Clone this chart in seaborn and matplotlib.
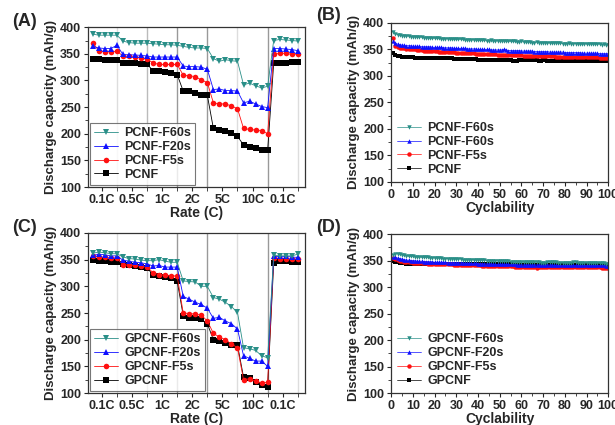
import numpy as np
import pandas as pd
import matplotlib
matplotlib.use("Agg")
import matplotlib.pyplot as plt
import seaborn as sns
from matplotlib.ticker import MultipleLocator, FixedLocator

sns.set_style("ticks")
plt.rcParams['font.family'] = ['Liberation Sans', 'DejaVu Sans']
plt.rcParams['font.weight'] = 'bold'

# ---------------- data ----------------
rate_labels = ["0.1C", "0.5C", "1C", "2C", "5C", "10C", "0.1C"]
rate_cycles = list(range(1, 36))

a_f60 = [387, 385, 385, 385, 385, 374, 371, 370, 370, 370, 369, 368, 367, 367, 366,
         364, 362, 361, 361, 360, 341, 336, 339, 337, 336, 292, 295, 290, 286, 289,
         375, 377, 376, 375, 374]
a_f20 = [364, 361, 360, 360, 366, 349, 348, 348, 347, 346, 344, 344, 344, 344, 344,
         327, 326, 326, 325, 321, 283, 284, 281, 281, 280, 258, 261, 256, 251, 249,
         360, 360, 359, 358, 356]
a_f5 = [370, 356, 354, 354, 355, 346, 345, 344, 342, 340, 333, 330, 330, 330, 330,
        310, 309, 307, 301, 296, 258, 256, 256, 252, 247, 210, 208, 207, 206, 200,
        349, 351, 351, 349, 350]
a_pcnf = [341, 340, 339, 339, 339, 333, 332, 332, 331, 331, 318, 318, 316, 314, 311,
          280, 280, 277, 273, 272, 210, 207, 205, 201, 195, 179, 176, 174, 170, 169,
          332, 333, 332, 334, 335]

c_f60 = [362, 364, 363, 361, 361, 355, 352, 351, 349, 348, 348, 350, 347, 345, 345,
         310, 309, 308, 300, 300, 279, 276, 270, 262, 251, 185, 183, 180, 170, 166,
         358, 357, 357, 357, 360]
c_f20 = [358, 360, 359, 357, 357, 349, 347, 345, 344, 342, 338, 339, 336, 336, 336,
         281, 276, 270, 266, 259, 240, 242, 235, 230, 220, 170, 165, 160, 160, 150,
         356, 356, 356, 355, 354]
c_f5 = [356, 355, 354, 353, 353, 340, 340, 339, 338, 337, 325, 322, 321, 320, 319,
        250, 249, 248, 246, 235, 212, 205, 200, 192, 185, 125, 127, 122, 119, 120,
        353, 352, 352, 351, 351]
c_gpcnf = [350, 348, 347, 346, 345, 341, 340, 338, 336, 335, 321, 320, 318, 315, 310,
           245, 241, 240, 238, 230, 200, 198, 193, 190, 190, 130, 128, 120, 115, 112,
           343, 347, 347, 346, 346]

cyc = list(range(1, 101))

b_f60 = [383, 380, 378, 377, 376, 376, 375, 375, 374, 374,
         374, 373, 373, 373, 372, 372, 372, 371, 371, 371,
         371, 371, 370, 370, 370, 370, 370, 369, 369, 369,
         369, 369, 369, 368, 368, 368, 368, 368, 368, 367,
         367, 367, 367, 366, 366, 367, 366, 366, 366, 366,
         366, 366, 365, 365, 365, 365, 365, 364, 364, 365,
         364, 364, 364, 364, 363, 363, 364, 363, 363, 363,
         363, 362, 362, 362, 362, 363, 362, 362, 361, 361,
         361, 362, 361, 361, 361, 361, 361, 360, 361, 360,
         360, 361, 360, 360, 360, 360, 359, 360, 359, 359]
b_f20 = [365, 362, 360, 359, 358, 358, 357, 357, 357, 356,
         356, 356, 356, 355, 355, 355, 355, 355, 354, 354,
         354, 354, 354, 353, 353, 353, 353, 353, 352, 352,
         352, 352, 352, 352, 351, 351, 351, 351, 351, 350,
         350, 350, 350, 350, 350, 349, 349, 349, 349, 349,
         349, 350, 349, 348, 348, 348, 348, 348, 348, 347,
         347, 347, 347, 347, 347, 346, 346, 346, 346, 346,
         346, 346, 345, 345, 345, 345, 345, 345, 345, 344,
         344, 344, 344, 344, 344, 344, 344, 343, 343, 343,
         343, 343, 343, 343, 343, 342, 342, 342, 342, 342]
b_f5 = [371, 356, 354, 353, 352, 352, 351, 351, 350, 350,
        350, 349, 349, 349, 348, 348, 348, 347, 347, 347,
        347, 346, 346, 346, 346, 345, 345, 345, 345, 344,
        344, 344, 344, 344, 343, 343, 343, 343, 342, 342,
        342, 342, 342, 341, 341, 341, 341, 341, 340, 340,
        340, 340, 340, 340, 339, 339, 339, 339, 339, 339,
        338, 338, 338, 338, 338, 338, 338, 337, 337, 337,
        337, 337, 337, 337, 337, 336, 336, 336, 336, 336,
        336, 336, 336, 336, 336, 335, 335, 335, 335, 335,
        335, 335, 335, 335, 335, 334, 334, 334, 334, 334]
b_pcnf = [343, 340, 338, 337, 336, 336, 335, 335, 335, 335,
          334, 334, 334, 334, 334, 334, 334, 333, 333, 333,
          333, 333, 333, 333, 333, 333, 333, 333, 332, 332,
          332, 332, 332, 332, 332, 332, 332, 332, 332, 331,
          331, 331, 331, 331, 331, 330, 330, 330, 331, 330,
          330, 330, 330, 330, 330, 329, 329, 329, 330, 330,
          330, 330, 330, 330, 330, 330, 330, 329, 329, 330,
          330, 329, 329, 329, 329, 330, 329, 329, 329, 329,
          329, 329, 329, 329, 329, 329, 329, 329, 329, 329,
          329, 329, 329, 329, 329, 328, 329, 329, 328, 328]

d_f60 = [361, 363, 363, 362, 361, 360, 359, 358, 358, 358,
         357, 357, 357, 356, 356, 356, 356, 355, 355, 355,
         355, 355, 355, 354, 354, 354, 354, 354, 353, 353,
         353, 353, 352, 352, 352, 352, 352, 351, 351, 351,
         351, 351, 351, 350, 350, 350, 350, 350, 350, 349,
         350, 349, 349, 349, 348, 348, 347, 347, 347, 347,
         347, 347, 347, 347, 347, 347, 347, 347, 346, 346,
         346, 347, 347, 347, 347, 347, 346, 346, 346, 346,
         346, 346, 346, 347, 347, 346, 346, 346, 346, 346,
         346, 346, 345, 346, 346, 345, 345, 345, 344, 343]
d_f20 = [357, 356, 355, 354, 353, 352, 351, 351, 350, 350,
         350, 349, 349, 349, 348, 348, 348, 348, 348, 347,
         347, 347, 347, 347, 347, 346, 346, 346, 346, 346,
         346, 346, 346, 345, 345, 345, 345, 345, 345, 344,
         344, 344, 344, 344, 344, 344, 343, 343, 343, 343,
         343, 343, 343, 343, 343, 343, 343, 342, 342, 342,
         342, 342, 342, 342, 342, 342, 342, 342, 342, 342,
         342, 342, 342, 342, 341, 341, 341, 341, 341, 341,
         341, 341, 341, 341, 341, 341, 341, 341, 341, 341,
         341, 341, 341, 341, 341, 341, 341, 341, 340, 340]
d_f5 = [355, 353, 351, 350, 349, 348, 348, 347, 347, 346,
        346, 346, 345, 345, 345, 345, 344, 344, 344, 344,
        344, 344, 343, 343, 343, 343, 343, 343, 342, 342,
        342, 342, 342, 342, 342, 341, 341, 341, 341, 341,
        341, 340, 340, 340, 340, 340, 340, 340, 339, 339,
        339, 339, 339, 339, 339, 339, 338, 338, 338, 338,
        338, 338, 338, 338, 338, 338, 337, 338, 338, 338,
        338, 338, 338, 338, 338, 338, 338, 338, 338, 338,
        338, 338, 338, 338, 338, 338, 338, 338, 338, 338,
        338, 338, 338, 338, 338, 338, 337, 337, 337, 337]
d_gpcnf = [350, 348, 347, 346, 345, 345, 344, 344, 344, 344,
           344, 343, 343, 343, 343, 343, 343, 343, 343, 343,
           343, 343, 343, 343, 343, 343, 343, 343, 343, 343,
           343, 343, 343, 343, 343, 343, 343, 343, 343, 343,
           343, 343, 343, 343, 343, 343, 343, 343, 343, 343,
           343, 343, 343, 343, 343, 342, 342, 342, 342, 342,
           342, 342, 342, 342, 342, 342, 342, 342, 342, 342,
           342, 342, 342, 342, 342, 342, 342, 342, 342, 342,
           342, 342, 342, 342, 342, 342, 342, 342, 342, 342,
           342, 342, 342, 342, 342, 342, 342, 342, 341, 341]

labels_a = ["PCNF-F60s", "PCNF-F20s", "PCNF-F5s", "PCNF"]
labels_b = ["PCNF-F60s", "PCNF-F60s", "PCNF-F5s", "PCNF"]
labels_c = ["GPCNF-F60s", "GPCNF-F20s", "GPCNF-F5s", "GPCNF"]
labels_d = ["GPCNF-F60s", "GPCNF-F20s", "GPCNF-F5s", "GPCNF"]

colors = ["#2a8f88", "#1010ff", "#ff1010", "#000000"]
markers = ["v", "^", "o", "s"]

fig = plt.figure(figsize=(6.15, 4.25), dpi=100)
axA = fig.add_axes([0.143, 0.560, 0.353, 0.376])
axB = fig.add_axes([0.636, 0.572, 0.353, 0.374])
axC = fig.add_axes([0.143, 0.075, 0.353, 0.377])
axD = fig.add_axes([0.636, 0.075, 0.353, 0.374])


def draw(ax, x, series, labels, ms, lw, frame):
    handles = [None] * 4
    for i in [3, 2, 1, 0]:
        sns.lineplot(x=x, y=series[i], ax=ax, color=colors[i], marker=markers[i],
                     markersize=ms, markeredgewidth=0, linewidth=lw,
                     label=labels[i], legend=False)
        handles[i] = ax.lines[-1]
    ax.set_ylim(100, 400)
    ax.yaxis.set_major_locator(MultipleLocator(50))
    ax.yaxis.set_minor_locator(MultipleLocator(25))
    ax.set_ylabel("Discharge capacity (mAh/g)", fontsize=9.5, fontweight='bold', labelpad=2)
    for sp in ax.spines.values():
        sp.set_visible(True)
        sp.set_color("#333333")
        sp.set_linewidth(0.9)
    ax.tick_params(axis='both', which='major', length=3, width=0.8, pad=2,
                   labelsize=9, direction='out')
    ax.tick_params(axis='both', which='minor', length=2, width=0.6, direction='out')
    for lab in ax.get_xticklabels() + ax.get_yticklabels():
        lab.set_fontweight('bold')
    leg = ax.legend(handles=handles, labels=labels, loc='lower left',
                    frameon=frame, handlelength=1.9, handletextpad=0.5,
                    labelspacing=0.15, borderpad=0.35, borderaxespad=0.15,
                    prop={'weight': 'bold', 'size': 9}, fancybox=False)
    if frame:
        leg.get_frame().set_edgecolor("#555555")
        leg.get_frame().set_linewidth(0.8)
    return leg


for ax, ser, labs in [(axA, [a_f60, a_f20, a_f5, a_pcnf], labels_a),
                      (axC, [c_f60, c_f20, c_f5, c_gpcnf], labels_c)]:
    bcol = {5: "#dddddd", 10: "#bbbbbb", 15: "#999999", 20: "#999999",
            25: "#dddddd", 30: "#999999", 35: "#dddddd"}
    for xv, c in bcol.items():
        ax.axvline(xv, color=c, linewidth=1.0, zorder=0)
    draw(ax, rate_cycles, ser, labs, ms=4, lw=0.6, frame=True)
    ax.set_xlim(0.2, 36.2)
    ax.xaxis.set_major_locator(FixedLocator([2.5 + 5 * k for k in range(7)]))
    ax.set_xticklabels(rate_labels, fontweight='bold')
    ax.xaxis.set_minor_locator(FixedLocator([5 * k for k in range(1, 8)]))
    ax.tick_params(axis='x', which='minor', length=3)
    ax.set_xlabel("Rate (C)", fontsize=10, fontweight='bold', labelpad=0)

for ax, ser, labs in [(axB, [b_f60, b_f20, b_f5, b_pcnf], labels_b),
                      (axD, [d_f60, d_f20, d_f5, d_gpcnf], labels_d)]:
    draw(ax, cyc, ser, labs, ms=3.2, lw=0.5, frame=False)
    ax.set_xlim(0, 100)
    ax.xaxis.set_major_locator(MultipleLocator(10))
    ax.xaxis.set_minor_locator(MultipleLocator(5))
    for lab in ax.get_xticklabels():
        lab.set_fontweight('bold')
    ax.set_xlabel("Cyclability", fontsize=10, fontweight='bold', labelpad=0)

for (px, py), t in [((12, 22), "(A)"), ((316, 16), "(B)"),
                    ((12, 228), "(C)"), ((316, 228), "(D)")]:
    fig.text(px / 615, 1 - py / 425, t, fontsize=13, fontweight='bold',
             ha='left', va='center')

fig.savefig("out.png", dpi=100)
